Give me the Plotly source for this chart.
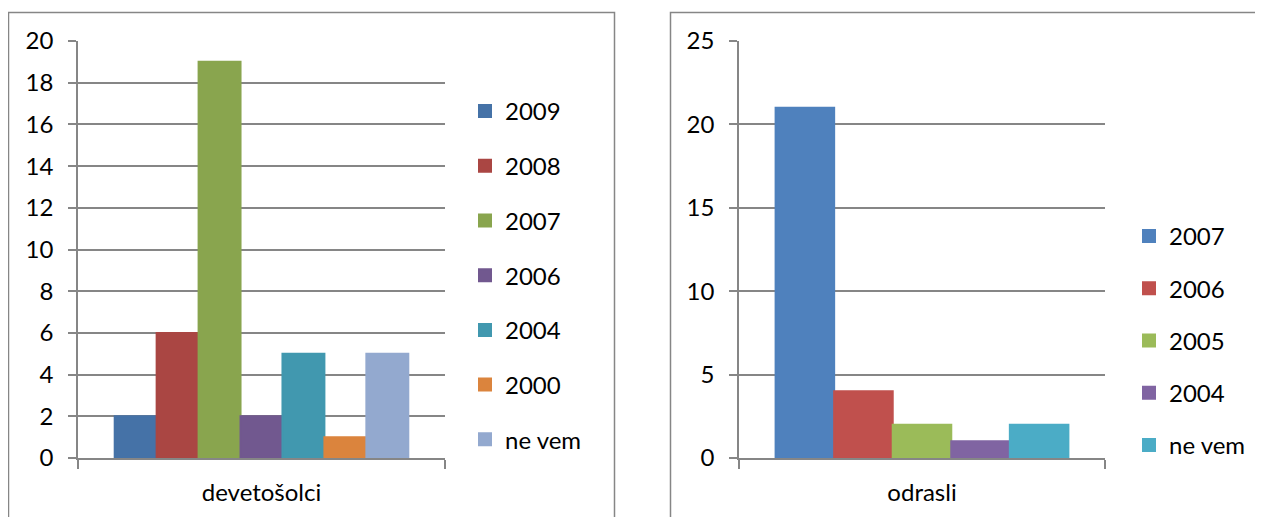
import plotly.graph_objects as go

# page body has an 8px margin, so the figure is shifted and measured from there
OFF = 8
W, H = 1263 - OFF, 517 - OFF

# left chart data
cat_left = ['devetošolci']
names_left = ['2009', '2008', '2007', '2006', '2004', '2000', 'ne vem']
vals_left = [2, 6, 19, 2, 5, 1, 5]
colors_left = ['#4572A7', '#AA4643', '#89A54E', '#71588F', '#4198AF', '#DB843D', '#93A9CF']

# right chart data
cat_right = ['odrasli']
names_right = ['2007', '2006', '2005', '2004', 'ne vem']
vals_right = [21, 4, 2, 1, 2]
colors_right = ['#4F81BD', '#C0504D', '#9BBB59', '#8064A2', '#4BACC6']

FONT = 'Lato'
FS = 24
GRID = '#868686'

fig = go.Figure()

# outline in the same colour makes the legend squares a bit larger
for i in range(len(names_left)):
    fig.add_trace(go.Bar(x=cat_left, y=[vals_left[i]], name=names_left[i],
                         marker=dict(color=colors_left[i], line=dict(width=2, color=colors_left[i])),
                         xaxis='x', yaxis='y', legend='legend',
                         legendgroup='l' + str(i)))

for i in range(len(names_right)):
    fig.add_trace(go.Bar(x=cat_right, y=[vals_right[i]], name=names_right[i],
                         marker=dict(color=colors_right[i], line=dict(width=2, color=colors_right[i])),
                         xaxis='x2', yaxis='y2', legend='legend2',
                         legendgroup='r' + str(i)))

# screen pixel -> paper coords
def px_x(v):
    return (v - OFF) / W

def px_y(v):
    return 1 - (v - OFF) / H

ydom = [px_y(458), px_y(41)]

common_x = dict(showline=True, linecolor=GRID, linewidth=1.5, ticks='outside',
                tickson='boundaries', ticklen=9, tickcolor=GRID, tickwidth=1.5,
                showgrid=False, tickfont=dict(family=FONT, size=FS, color='black'),
                ticklabelstandoff=12, fixedrange=True, automargin=False)
common_y = dict(showline=True, linecolor=GRID, linewidth=1.5, ticks='outside',
                ticklen=8, tickcolor=GRID, tickwidth=1.5, showgrid=True,
                gridcolor=GRID, gridwidth=1.5, zeroline=False,
                tickfont=dict(family=FONT, size=FS, color='black'),
                ticklabelstandoff=10, fixedrange=True, automargin=False)

legend_common = dict(font=dict(family=FONT, size=FS, color='black'),
                     bgcolor='rgba(0,0,0,0)', itemwidth=30,
                     xanchor='left', yanchor='top', itemclick=False)

fig.update_layout(
    width=W, height=H,
    margin=dict(l=0, r=0, t=0, b=0, autoexpand=False),
    paper_bgcolor='white', plot_bgcolor='white',
    barmode='group', bargap=0.2, bargroupgap=0,
    xaxis=dict(domain=[px_x(78), px_x(445)], anchor='y', **common_x),
    yaxis=dict(domain=ydom, anchor='x', range=[0, 20], dtick=2, **common_y),
    xaxis2=dict(domain=[px_x(739), px_x(1105)], anchor='y2', **common_x),
    yaxis2=dict(domain=ydom, anchor='x2', range=[0, 25], dtick=5, **common_y),
    legend=dict(x=px_x(465), y=px_y(89), tracegroupgap=20.5, **legend_common),
    legend2=dict(x=px_x(1129), y=px_y(214), tracegroupgap=18, **legend_common),
    showlegend=True,
    shapes=[
        dict(type='rect', xref='paper', yref='paper',
             x0=px_x(8.5), x1=px_x(614.5), y0=px_y(560), y1=px_y(12.5),
             line=dict(color=GRID, width=1.5), fillcolor='rgba(0,0,0,0)', layer='below'),
        dict(type='rect', xref='paper', yref='paper',
             x0=px_x(670.5), x1=px_x(1300), y0=px_y(560), y1=px_y(12.5),
             line=dict(color=GRID, width=1.5), fillcolor='rgba(0,0,0,0)', layer='below'),
    ],
)

fig.write_html('out.html')
